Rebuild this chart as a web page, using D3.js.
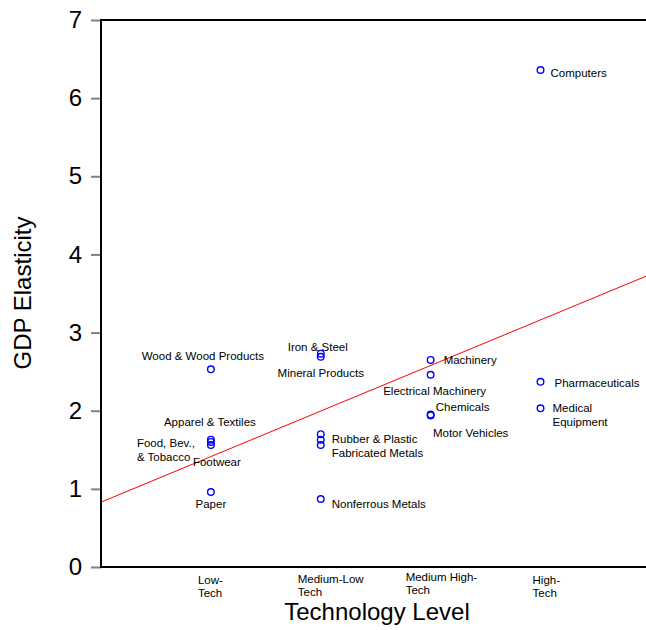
<!DOCTYPE html>
<html>
<head>
<meta charset="utf-8">
<script src="https://cdn.jsdelivr.net/npm/d3@7"></script>
<style>
body { margin: 0; background: #fff; }
text { font-family: "Liberation Sans", Arial, sans-serif; fill: #000; }
</style>
</head>
<body>
<svg id="svg1" width="646" height="630"></svg>
<script>
// industries, their technology level (1 = low ... 4 = high) and GDP elasticity
var industries = ["Computers", "Pharmaceuticals", "Medical|Equipment", "Machinery", "Electrical Machinery",
    "Chemicals", "Motor Vehicles", "Iron & Steel", "Mineral Products", "Rubber & Plastic", "",
    "Fabricated Metals", "Nonferrous Metals", "Wood & Wood Products", "Apparel & Textiles",
    "Food, Bev.,|& Tobacco", "Footwear", "Paper"];
var techLevel = [4, 4, 4, 3, 3, 3, 3, 2, 2, 2, 2, 2, 2, 1, 1, 1, 1, 1];
var elasticity = [6.36, 2.37, 2.03, 2.65, 2.46, 1.95, 1.94, 2.73, 2.69, 1.70, 1.63, 1.56, 0.87,
    2.53, 1.63, 1.60, 1.56, 0.96];

var techLabels = [["Low-", "Tech"], ["Medium-Low", "Tech"], ["Medium High-", "Tech"], ["High-", "Tech"]];
var yTicks = [0, 1, 2, 3, 4, 5, 6, 7];

// fitted line: elasticity = a + b * level
var fitIntercept = 0.83;
var fitSlope = 0.583;

// label placement next to each point (offset in px, anchor)
var labelLayout = [
    [10, 3, "start"], [14, 1, "start"], [12, 0, "start"], [13, 0, "start"], [4, 16, "middle"],
    [32, -8, "middle"], [40, 18, "middle"], [-3, -7, "middle"], [0, 16, "middle"], [11, 5, "start"],
    [0, 0, "start"], [11, 8, "start"], [11, 5, "start"], [-8, -13, "middle"], [-1, -18, "middle"],
    [-74, 1, "start"], [6, 17, "middle"], [0, 12, "middle"]
];
// tick label block offsets (left edge relative to tick position) and line rows
var tickLabelDx = [-13, -23, -25, -8];
var tickLabelDy = [0, -1, -3, 0];

var svg = d3.select('#svg1');

var plotLeft = 101, plotRight = 646, plotTop = 20, plotBottom = 567;

var x = d3.scaleLinear().domain([0, 4.96]).range([plotLeft, plotRight]);
var y = d3.scaleLinear().domain([0, 7]).range([plotBottom, plotTop]);

// regression line
svg.append('line')
    .attr('x1', x(0)).attr('y1', y(fitIntercept))
    .attr('x2', x(4.96)).attr('y2', y(fitIntercept + fitSlope * 4.96))
    .attr('stroke', '#ff0000')
    .attr('stroke-width', 1);

// y axis
var yAxis = svg.append('g')
    .attr('transform', 'translate(' + plotLeft + ',0)')
    .call(d3.axisLeft(y).tickValues(yTicks).tickSize(10).tickPadding(9).tickFormat(d3.format('d')));
yAxis.select('.domain').remove();
yAxis.selectAll('.tick line').attr('stroke', '#808080').attr('stroke-width', 2);
yAxis.selectAll('.tick text')
    .attr('font-size', 24)
    .attr('font-family', '"Liberation Sans", Arial, sans-serif')
    .attr('fill', '#000');

// frame lines: left, bottom, top
svg.append('line').attr('x1', plotLeft).attr('x2', plotLeft).attr('y1', plotTop - 1).attr('y2', plotBottom + 1)
    .attr('stroke', '#000').attr('stroke-width', 2);
svg.append('line').attr('x1', plotLeft).attr('x2', plotRight).attr('y1', plotBottom).attr('y2', plotBottom)
    .attr('stroke', '#000').attr('stroke-width', 2);
svg.append('line').attr('x1', plotLeft).attr('x2', plotRight).attr('y1', plotTop).attr('y2', plotTop)
    .attr('stroke', '#000').attr('stroke-width', 2);

// x category labels
svg.selectAll('text.cat')
    .data(techLabels)
    .enter()
    .append('text')
    .attr('class', 'cat')
    .attr('font-size', 11.5)
    .each(function (d, i) {
        var t = d3.select(this);
        d.forEach(function (line, j) {
            t.append('tspan')
                .attr('x', x(i + 1) + tickLabelDx[i])
                .attr('y', 584 + tickLabelDy[i] + j * 12.5)
                .text(line);
        });
    });

// points
var pts = techLevel.map(function (lv, i) {
    return { name: industries[i], level: lv, value: elasticity[i], layout: labelLayout[i] };
});

svg.selectAll('circle')
    .data(pts)
    .enter()
    .append('circle')
    .attr('cx', function (d) { return x(d.level); })
    .attr('cy', function (d) { return y(d.value); })
    .attr('r', 3.3)
    .attr('fill', 'none')
    .attr('stroke', '#0000ff')
    .attr('stroke-width', 1.4);

svg.selectAll('text.lbl')
    .data(pts)
    .enter()
    .append('text')
    .attr('class', 'lbl')
    .attr('font-size', 11.5)
    .attr('text-anchor', function (d) { return d.layout[2]; })
    .each(function (d) {
        var t = d3.select(this);
        d.name.split('|').forEach(function (line, j) {
            t.append('tspan')
                .attr('x', x(d.level) + d.layout[0])
                .attr('y', y(d.value) + d.layout[1] + j * 14)
                .attr('dy', '0.35em')
                .text(line);
        });
    });

// axis titles
svg.append('text')
    .attr('x', 377).attr('y', 620)
    .attr('text-anchor', 'middle')
    .attr('font-size', 24)
    .text('Technology Level');

svg.append('text')
    .attr('transform', 'translate(31,293) rotate(-90)')
    .attr('text-anchor', 'middle')
    .attr('font-size', 24)
    .text('GDP Elasticity');
</script>
</body>
</html>
